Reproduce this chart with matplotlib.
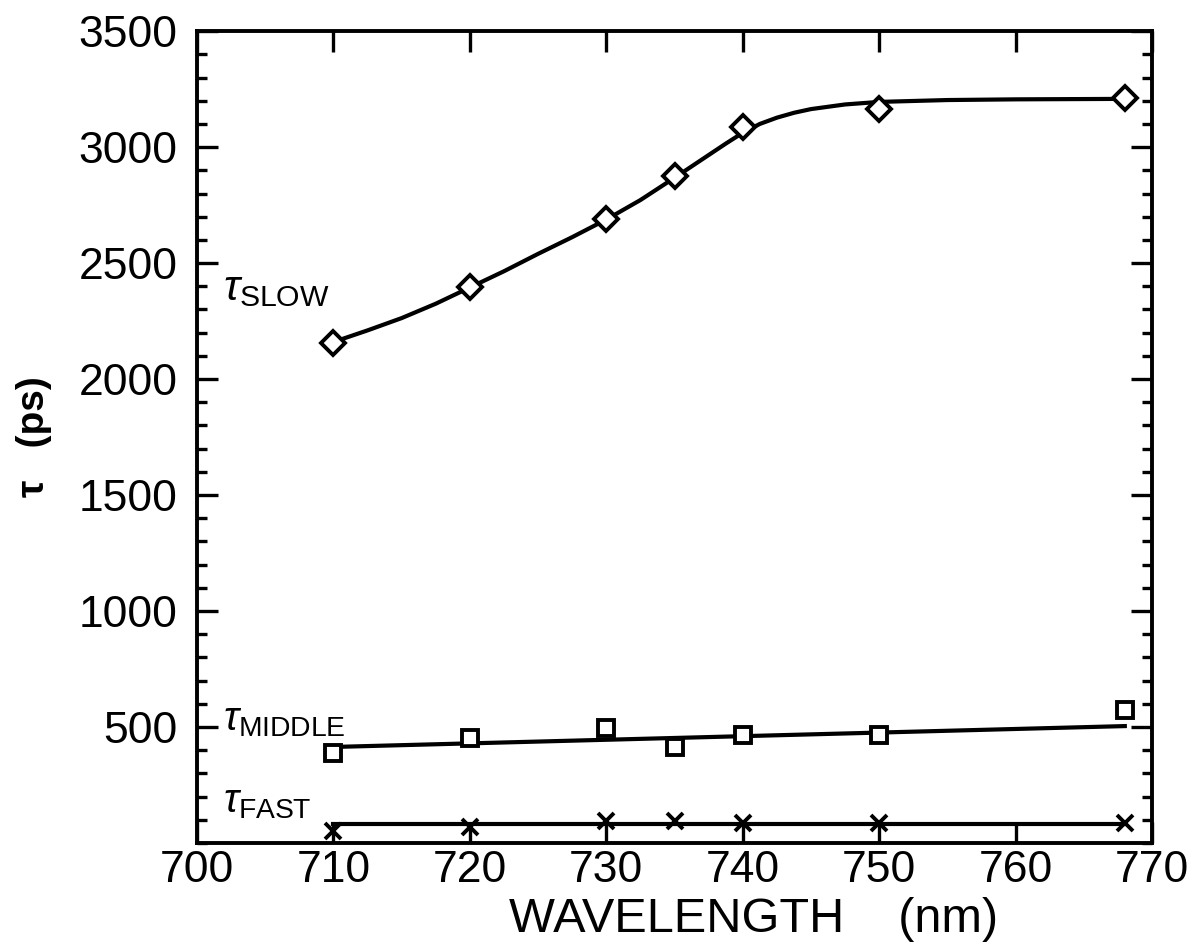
import matplotlib
matplotlib.use('Agg')
import matplotlib.pyplot as plt
from matplotlib.ticker import MultipleLocator

plt.rcParams['font.family'] = ['Liberation Sans', 'DejaVu Sans']
plt.rcParams['mathtext.fontset'] = 'custom'
plt.rcParams['mathtext.rm'] = 'Liberation Sans'
plt.rcParams['mathtext.it'] = 'Liberation Sans:italic'

# measured lifetimes (ps) vs wavelength (nm)
wavelength = [710, 720, 730, 735, 740, 750, 768]
tau_slow = [2155, 2397, 2690, 2875, 3086, 3165, 3213]
tau_middle = [386, 454, 497, 414, 464, 466, 575]
tau_fast = [50, 71, 93, 93, 86, 86, 86]

# drawn fit curve for tau_slow
slow_fit_x = [710, 712.5, 715, 717.5, 720, 722.5, 725, 727.5, 730, 732.5, 735,
              737.5, 738.75, 740, 741.25, 742.5, 743.75, 745, 747.5, 750, 755, 760, 768]
slow_fit_y = [2160, 2210, 2263, 2325, 2395, 2465, 2540, 2612, 2688, 2772, 2868,
              2966, 3015, 3062, 3100, 3127, 3148, 3164, 3184, 3195, 3203, 3206, 3208]

# straight fit lines (end points)
middle_fit_x = [710, 768]
middle_fit_y = [414, 504]
fast_fit_x = [710, 768]
fast_fit_y = [84, 84]

x_ticks = [700, 710, 720, 730, 740, 750, 760, 770]
y_ticks = [500, 1000, 1500, 2000, 2500, 3000, 3500]

fig = plt.figure(figsize=(11.95, 9.44), dpi=100)
ax = fig.add_axes([0.1649, 0.107, 0.7992, 0.860])

ax.plot(slow_fit_x, slow_fit_y, color='black', lw=3, zorder=2)
ax.plot(middle_fit_x, middle_fit_y, color='black', lw=3, zorder=2)
ax.plot(fast_fit_x, fast_fit_y, color='black', lw=3, zorder=2)

ax.plot(wavelength, tau_slow, linestyle='none', marker='D', ms=12,
        mfc='white', mec='black', mew=2.8, zorder=3)
ax.plot(wavelength, tau_middle, linestyle='none', marker='s', ms=11,
        mfc='white', mec='black', mew=2.8, zorder=3)
ax.plot(wavelength, tau_fast, linestyle='none', marker='x', ms=12,
        mec='black', mew=2.8, zorder=3)

ax.text(701.9, 2340, r'$\tau_{\mathrm{SLOW}}$', fontsize=31, ha='left', va='baseline')
ax.text(701.9, 487, r'$\tau_{\mathrm{MIDDLE}}$', fontsize=29, ha='left', va='baseline')
ax.text(701.9, 134, r'$\tau_{\mathrm{FAST}}$', fontsize=29, ha='left', va='baseline')

ax.set_xlim(700, 770)
ax.set_ylim(0, 3500)
ax.set_xticks(x_ticks)
ax.set_xticklabels([str(t) for t in x_ticks])
ax.set_yticks(y_ticks)
ax.set_yticklabels([str(t) for t in y_ticks])
ax.yaxis.set_minor_locator(MultipleLocator(100))

ax.tick_params(axis='both', which='major', direction='in', length=15, width=2.4,
               labelsize=32, top=True, right=True)
ax.tick_params(axis='y', which='minor', direction='in', length=7, width=2.4,
               left=True, right=True)
ax.tick_params(axis='x', which='major', pad=5)
ax.tick_params(axis='y', which='major', pad=14)

for spine in ax.spines.values():
    spine.set_linewidth(2.8)

ax.set_xlabel('WAVELENGTH    (nm)', fontsize=35)
ax.xaxis.label.set_verticalalignment('baseline')
ax.xaxis.set_label_coords(0.583, -0.1096)

ax.set_ylabel('τ   (ps)', fontsize=28, fontweight='bold')
ax.yaxis.set_label_coords(-0.152, 0.5)

plt.savefig('out.png', dpi=100)
plt.close()
